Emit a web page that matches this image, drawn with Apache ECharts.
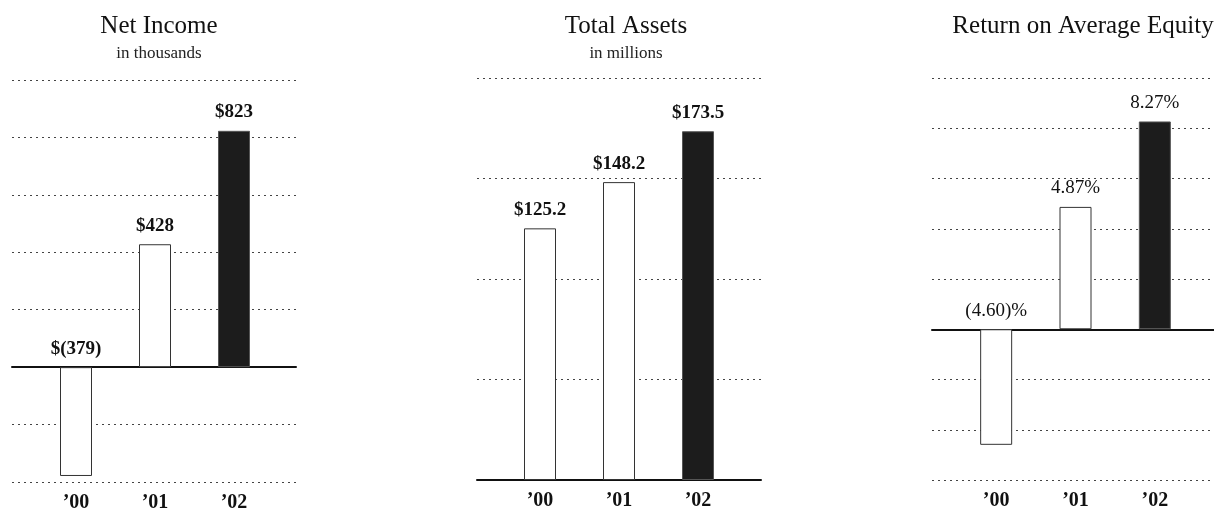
<!DOCTYPE html>
<html>
<head>
<meta charset="utf-8">
<script src="https://cdn.jsdelivr.net/npm/echarts@6/dist/echarts.min.js"></script>
<style>
  html, body { margin: 0; padding: 0; background: #fff; }
  #chart { width: 1214px; height: 529px; }
</style>
</head>
<body>
<div id="chart"></div>
<script>
// ---- data ----
const years = ['’00', '’01', '’02'];
const netIncome = [-379, 428, 823];          // in thousands
const totalAssets = [125.2, 148.2, 173.5];   // in millions
const returnOnEquity = [-4.60, 4.87, 8.27];  // percent

const panelTitles = ['Net Income', 'Total Assets', 'Return on Average Equity'];
const panelSubtitles = ['in thousands', 'in millions', ''];

const niAxis = { min: -400, max: 1000, interval: 200 };
const taAxis = { min: 0, max: 200, interval: 50 };
const roeAxis = { min: -6, max: 10, interval: 2 };

// ---- styling / layout ----
const SERIF = '"Liberation Serif", "Times New Roman", serif';
const panels = [
  { bg: { left: 12, top: 80, width: 284, height: 402 }, bars: { left: 36.5, top: 80, width: 237, height: 402 }, center: 154, axis: niAxis },
  { bg: { left: 477, top: 78, width: 284, height: 402 }, bars: { left: 500.5, top: 78, width: 237, height: 402 }, center: 621, axis: taAxis },
  { bg: { left: 932, top: 78, width: 282, height: 402 }, bars: { left: 956.5, top: 78, width: 238, height: 402 }, center: 1078, axis: roeAxis }
];

const formatters = [
  v => v < 0 ? '$(' + Math.abs(v) + ')' : '$' + v,
  v => '$' + v.toFixed(1),
  v => v < 0 ? '(' + Math.abs(v).toFixed(2) + ')%' : v.toFixed(2) + '%'
];
const labelWeights = ['bold', 'bold', 'normal'];
const seriesValues = [netIncome, totalAssets, returnOnEquity];

const grids = [], xAxes = [], yAxes = [], series = [], titles = [];

panels.forEach((p, k) => {
  const gBg = grids.length;
  grids.push(Object.assign({ containLabel: false }, p.bg));
  const gBar = grids.length;
  grids.push(Object.assign({ containLabel: false }, p.bars));

  // background grid: dotted gridlines + solid zero line
  xAxes.push({
    gridIndex: gBg, type: 'value', min: 0, max: 1, show: true,
    axisLine: { show: true, onZero: true, lineStyle: { color: '#111', width: 2 } },
    axisTick: { show: false }, axisLabel: { show: false }, splitLine: { show: false }
  });
  yAxes.push({
    gridIndex: gBg, type: 'value', min: p.axis.min, max: p.axis.max, interval: p.axis.interval,
    axisLine: { show: false }, axisTick: { show: false }, axisLabel: { show: false },
    splitLine: { show: true, lineStyle: { color: '#444', width: 1, type: [2, 4] } }
  });

  // bar grid
  xAxes.push({
    gridIndex: gBar, type: 'category', data: years,
    axisLine: { show: false, onZero: false }, axisTick: { show: false },
    axisLabel: { fontFamily: SERIF, fontWeight: 'bold', fontSize: 20, color: '#111', margin: 11 }
  });
  yAxes.push({
    gridIndex: gBar, type: 'value', min: p.axis.min, max: p.axis.max, interval: p.axis.interval,
    show: false, splitLine: { show: false }
  });

  const vals = seriesValues[k];
  series.push({
    type: 'bar',
    xAxisIndex: xAxes.length - 1, yAxisIndex: yAxes.length - 1,
    barWidth: 32,
    data: vals.map((v, i) => ({
      value: v,
      itemStyle: i === vals.length - 1
        ? { color: '#1c1c1c', borderColor: '#555', borderWidth: 1 }
        : { color: '#ffffff', borderColor: '#333', borderWidth: 1 }
    })),
    label: {
      show: true, position: 'top', distance: 9,
      fontFamily: SERIF, fontSize: 19, fontWeight: labelWeights[k], color: '#111',
      formatter: params => formatters[k](params.value)
    },
    z: 3
  });

  titles.push({
    text: panelTitles[k],
    subtext: panelSubtitles[k],
    left: p.center, top: 9, textAlign: 'center', itemGap: 6,
    textStyle: { fontFamily: SERIF, fontSize: 25, fontWeight: 'normal', color: '#111' },
    subtextStyle: { fontFamily: SERIF, fontSize: 17, color: '#222' }
  });
});

const chart = echarts.init(document.getElementById('chart'), null, { renderer: 'canvas' });
chart.setOption({
  backgroundColor: '#ffffff',
  animation: false,
  title: titles,
  grid: grids,
  xAxis: xAxes,
  yAxis: yAxes,
  series: series
});
</script>
</body>
</html>
